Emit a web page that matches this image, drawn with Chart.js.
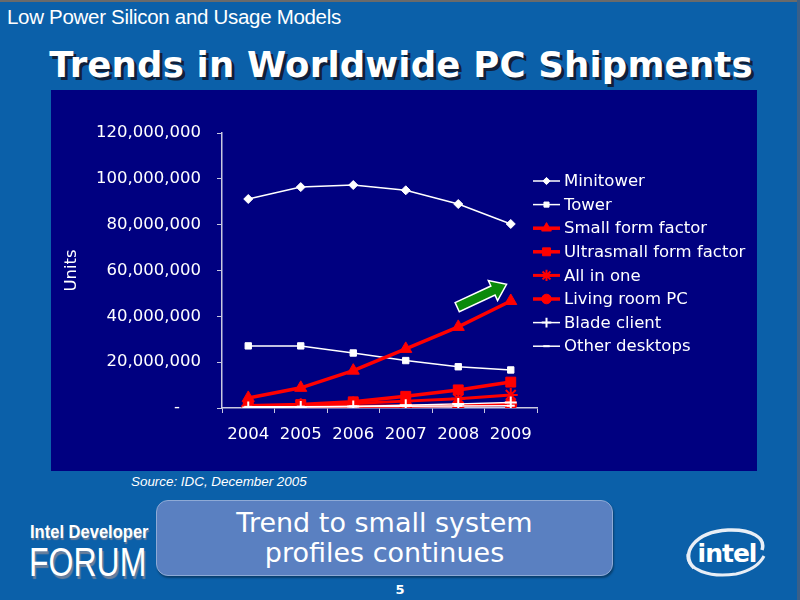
<!DOCTYPE html>
<html>
<head>
<meta charset="utf-8">
<script src="https://cdn.jsdelivr.net/npm/chart.js@4.4.1/dist/chart.umd.min.js"></script>
<style>
    html, body { margin: 0; padding: 0; }
    body {
        width: 800px; height: 600px; position: relative; overflow: hidden;
        background: #0b60a9; font-family: 'DejaVu Sans', sans-serif; color: #fff;
    }
    .topline { position: absolute; left: 0; top: 0; width: 800px; height: 2px; background: #6a6a6a; }
    .rightline { position: absolute; right: 0; top: 0; width: 3px; height: 600px; background: #3a5f88; }
    .subtitle {
        position: absolute; left: 7px; top: 5px; font-family: 'Liberation Sans', sans-serif;
        font-size: 20.5px; letter-spacing: -0.3px;
    }
    .title {
        position: absolute; left: 0; width: 802px; top: 44px; text-align: center;
        font-family: 'DejaVu Sans', sans-serif; font-weight: bold; font-size: 35.5px;
        text-shadow: 3px 3px 0 #10203a; letter-spacing: 0.2px;
    }
    .panel { position: absolute; left: 51px; top: 90px; width: 706px; height: 381px; background: #000080; }
    .source {
        position: absolute; left: 131px; top: 474px; font-family: 'Liberation Sans', sans-serif;
        font-style: italic; font-size: 13.4px;
    }
    .callout {
        position: absolute; left: 156px; top: 500px; width: 457px; height: 76px;
        background: #5a80c1; border: 1px solid #8eaad6; border-radius: 12px;
        box-shadow: 1px 2px 2px rgba(0,0,0,0.35);
        text-align: center; font-family: 'DejaVu Sans', sans-serif; font-size: 27px; line-height: 30px;
        padding-top: 7px; box-sizing: border-box;
    }
    .idf1 {
        position: absolute; left: 30px; top: 521px; font-family: 'Liberation Sans', sans-serif;
        font-size: 19px; font-weight: bold; text-shadow: 1px 2px 1px #6b7f9b;
        transform: scaleX(0.87); transform-origin: left top; white-space: nowrap;
    }
    .idf2 {
        position: absolute; left: 29px; top: 540px; font-family: 'Liberation Sans', sans-serif;
        font-size: 40px; text-shadow: 2px 3px 1px #6b7f9b;
        transform: scaleX(0.8); transform-origin: left top; white-space: nowrap;
    }
    .page { position: absolute; left: 0; width: 800px; top: 582px; text-align: center; font-size: 13px; font-weight: bold; }
    .intel { position: absolute; left: 680px; top: 524px; }
</style>
</head>
<body>
<div class="topline"></div>
<div class="rightline"></div>
<div class="subtitle">Low Power Silicon and Usage Models</div>
<div class="title">Trends in Worldwide PC Shipments</div>
<div class="panel"><canvas id="chart" width="706" height="381"></canvas></div>
<div class="source">Source: IDC, December 2005</div>
<div class="callout">Trend to small system<br>profiles continues</div>
<div class="idf1">Intel Developer</div>
<div class="idf2">FORUM</div>
<div class="intel">
    <svg width="90" height="56" viewBox="0 0 90 56">
        <path d="M14 44 C0 30 14 8 48 6 C72 5 86 14 82 26" fill="none" stroke="#e8eef6" stroke-width="3.5"/>
        <path d="M8 30 C6 46 30 54 56 50 C70 47 80 40 84 32" fill="none" stroke="#e8eef6" stroke-width="3"/>
        <text x="47" y="38" text-anchor="middle" font-family="DejaVu Sans" font-weight="bold" font-size="25" fill="#ffffff" letter-spacing="-1">intel</text>
    </svg>
</div>
<div class="page">5</div>

<script>
const years = ['2004', '2005', '2006', '2007', '2008', '2009'];

const seriesNames = ['Minitower', 'Tower', 'Small form factor', 'Ultrasmall form factor',
    'All in one', 'Living room PC', 'Blade client', 'Other desktops'];

const minitower = [91200000, 96400000, 97300000, 95000000, 89000000, 80300000];
const tower = [27100000, 27100000, 24000000, 20700000, 18000000, 16600000];
const smallFormFactor = [4400000, 8800000, 16300000, 25800000, 35400000, 46700000];
const ultrasmallFormFactor = [1000000, 1500000, 2700000, 5100000, 7900000, 11300000];
const allInOne = [800000, 1200000, 2000000, 3000000, 4000000, 5700000];
const livingRoomPC = [300000, 500000, 700000, 900000, 1200000, 1500000];
const bladeClient = [200000, 400000, 700000, 1200000, 1800000, 2400000];
const otherDesktops = [500000, 600000, 700000, 800000, 900000, 1000000];

const yTicks = [0, 20000000, 40000000, 60000000, 80000000, 100000000, 120000000];

// arrow from / to in data units (category index, units)
const arrowFrom = [3.98, 44000000];
const arrowTo = [4.92, 54000000];

const WHITE = '#ffffff';
const RED = '#ff0000';

const seriesStyle = [
    { data: minitower, color: WHITE, width: 1.5, point: 'rectRot', radius: 4.5 },
    { data: tower, color: WHITE, width: 1.5, point: 'rect', radius: 4.5 },
    { data: smallFormFactor, color: RED, width: 3.5, point: 'triangle', radius: 7 },
    { data: ultrasmallFormFactor, color: RED, width: 3.5, point: 'rect', radius: 7 },
    { data: allInOne, color: RED, width: 3, point: 'star', radius: 7 },
    { data: livingRoomPC, color: RED, width: 3.5, point: 'circle', radius: 6 },
    { data: bladeClient, color: WHITE, width: 1.5, point: 'cross', radius: 6 },
    { data: otherDesktops, color: WHITE, width: 1.5, point: 'line', radius: 4 }
];

const datasets = seriesStyle.map((s, i) => ({
    label: seriesNames[i],
    data: s.data,
    borderColor: s.color,
    backgroundColor: s.color,
    borderWidth: s.width,
    pointStyle: s.point,
    pointRadius: s.radius,
    pointBorderWidth: s.point === 'star' || s.point === 'cross' || s.point === 'line' ? 2 : 1,
    pointBorderColor: s.color,
    pointBackgroundColor: s.color,
    tension: 0,
    order: [6, 7, 3, 2, 4, 5, 0, 1][i]
}));

// legend drawn by hand so the plot area keeps its place
const sideLegend = {
    id: 'sideLegend',
    afterDraw(chart) {
        const ctx = chart.ctx;
        const x0 = 482, x1 = 509, tx = 513, top = 91, gap = 23.6;
        ctx.save();
        ctx.font = '16.5px "DejaVu Sans"';
        ctx.textBaseline = 'middle';
        chart.data.datasets.forEach((ds, i) => {
            const y = top + i * gap;
            ctx.strokeStyle = ds.borderColor;
            ctx.lineWidth = ds.borderWidth;
            ctx.beginPath();
            ctx.moveTo(x0, y);
            ctx.lineTo(x1, y);
            ctx.stroke();
            ctx.fillStyle = ds.pointBackgroundColor;
            ctx.lineWidth = ds.pointBorderWidth;
            Chart.helpers.drawPoint(ctx, {
                pointStyle: ds.pointStyle,
                radius: ds.pointRadius * 0.8,
                rotation: 0,
                borderWidth: ds.pointBorderWidth
            }, (x0 + x1) / 2, y);
            ctx.fillStyle = '#ffffff';
            ctx.fillText(ds.label, tx, y + 1);
        });
        ctx.restore();
    }
};

const growthArrow = {
    id: 'growthArrow',
    afterDatasetsDraw(chart) {
        const xs = chart.scales.x, ys = chart.scales.y;
        const ax = xs.getPixelForValue(arrowFrom[0]), ay = ys.getPixelForValue(arrowFrom[1]);
        const bx = xs.getPixelForValue(arrowTo[0]), by = ys.getPixelForValue(arrowTo[1]);
        const len = Math.hypot(bx - ax, by - ay);
        const ang = Math.atan2(by - ay, bx - ax);
        const ctx = chart.ctx;
        const hw = 5, headW = 11, headL = 15;
        ctx.save();
        ctx.translate(ax, ay);
        ctx.rotate(ang);
        ctx.beginPath();
        ctx.moveTo(0, -hw);
        ctx.lineTo(len - headL, -hw);
        ctx.lineTo(len - headL, -headW);
        ctx.lineTo(len, 0);
        ctx.lineTo(len - headL, headW);
        ctx.lineTo(len - headL, hw);
        ctx.lineTo(0, hw);
        ctx.closePath();
        ctx.fillStyle = '#0a8a0a';
        ctx.fill();
        ctx.strokeStyle = '#ffffff';
        ctx.lineWidth = 1.5;
        ctx.stroke();
        ctx.restore();
    }
};

new Chart(document.getElementById('chart'), {
    type: 'line',
    data: { labels: years, datasets: datasets },
    options: {
        responsive: false,
        animation: false,
        layout: { padding: { left: 0, top: 43, right: 220, bottom: 0 } },
        plugins: { legend: { display: false }, tooltip: { enabled: false } },
        scales: {
            x: {
                offset: true,
                grid: { offset: true, drawOnChartArea: false, color: '#c8c8e0', tickLength: 5 },
                border: { color: '#c8c8e0', width: 1.5 },
                ticks: { color: '#ffffff', font: { family: 'DejaVu Sans', size: 16.5 }, padding: 12, maxRotation: 0 },
                afterFit(scale) { scale.height = 63; }
            },
            y: {
                min: 0,
                max: 120000000,
                afterBuildTicks(scale) { scale.ticks = yTicks.map(v => ({ value: v })); },
                grid: { drawOnChartArea: false, color: '#c8c8e0', tickLength: 5 },
                border: { color: '#c8c8e0', width: 1.5 },
                ticks: {
                    color: '#ffffff',
                    font: { family: 'DejaVu Sans', size: 16.5 },
                    padding: 16,
                    callback: v => v === 0 ? '-    ' : v.toLocaleString('en-US')
                },
                title: {
                    display: true, text: 'Units', color: '#ffffff',
                    font: { family: 'DejaVu Sans', size: 16.5 }, padding: { top: 11, bottom: 0 }
                },
                afterFit(scale) { scale.width = 171; }
            }
        }
    },
    plugins: [sideLegend, growthArrow]
});
</script>
</body>
</html>
